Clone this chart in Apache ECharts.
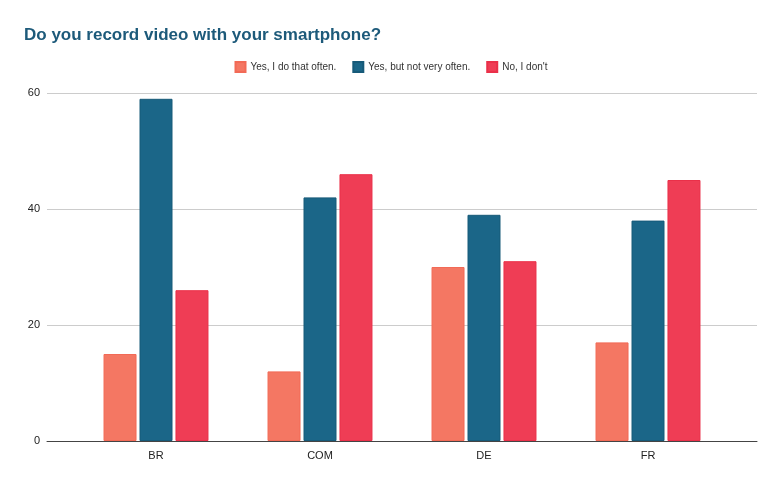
<!DOCTYPE html>
<html>
<head>
<meta charset="utf-8">
<script src="https://cdn.jsdelivr.net/npm/echarts@6/dist/echarts.min.js"></script>
<style>
html,body{margin:0;padding:0;background:#fff;}
#chart{width:782px;height:483px;}
</style>
</head>
<body>
<div id="chart"></div>
<script>
var categories = ['BR', 'COM', 'DE', 'FR'];
var seriesNames = ['Yes, I do that often.', 'Yes, but not very often.', "No, I don't"];
var oftenValues = [15, 12, 30, 17];
var notOftenValues = [59, 42, 39, 38];
var noValues = [26, 46, 31, 45];
var yTicks = [0, 20, 40, 60];

var colors = ['#F47763', '#1B6688', '#EF3D55'];
var borders = ['#F26A56', '#175A79', '#EA3049'];
var font = '"Liberation Sans", Arial, sans-serif';

var chart = echarts.init(document.getElementById('chart'), null, {renderer: 'canvas'});
var data = [oftenValues, notOftenValues, noValues];
var option = {
  animation: false,
  backgroundColor: '#ffffff',
  title: {
    text: 'Do you record video with your smartphone?',
    left: 19, top: 22,
    textStyle: {fontFamily: font, fontSize: 17, fontWeight: 'bold', color: '#1D5A7A'}
  },
  legend: {
    data: seriesNames,
    top: 56, left: 'center',
    itemWidth: 10, itemHeight: 10, itemGap: 16,
    icon: 'rect',
    textStyle: {fontFamily: font, fontSize: 10, color: '#333'}
  },
  grid: [
    {left: 47, right: 25, top: 93, bottom: 42, containLabel: false},
    {left: 74, right: 52, top: 93, bottom: 42, containLabel: false}
  ],
  xAxis: [
    {gridIndex: 0, type: 'category', data: categories, show: true,
     axisLine: {show: true, lineStyle: {color: '#444', width: 1}},
     axisTick: {show: false}, axisLabel: {show: false}},
    {gridIndex: 1, type: 'category', data: categories,
     axisLine: {show: false}, axisTick: {show: false},
     axisLabel: {fontFamily: font, fontSize: 11, color: '#222', margin: 9}}
  ],
  yAxis: [
    {gridIndex: 0, type: 'value', min: 0, max: 60, interval: 20,
     axisLine: {show: false}, axisTick: {show: false},
     axisLabel: {fontFamily: font, fontSize: 11, color: '#222', margin: 7},
     splitLine: {lineStyle: {color: '#cccccc', width: 1}}},
    {gridIndex: 1, type: 'value', min: 0, max: 60, interval: 20, show: false,
     splitLine: {show: false}}
  ],
  series: seriesNames.map(function (name, i) {
    return {
      name: name, type: 'bar', xAxisIndex: 1, yAxisIndex: 1,
      data: data[i], barWidth: 33, barGap: '9%',
      itemStyle: {color: colors[i], borderColor: borders[i], borderWidth: 1},
      z: 3
    };
  })
};
chart.setOption(option);
</script>
</body>
</html>
